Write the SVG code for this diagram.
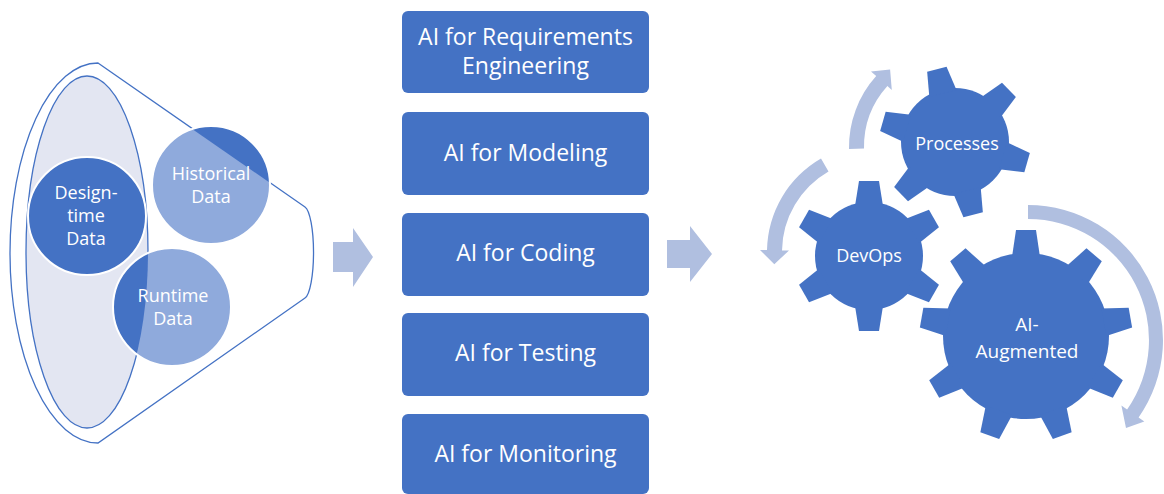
<svg xmlns="http://www.w3.org/2000/svg" xmlns:xlink="http://www.w3.org/1999/xlink" width="1164" height="494" viewBox="0 0 1164 494">
<style>
.box{fill:#4472c4}
.bt{font-family:"Open Sans","Liberation Sans",sans-serif;font-size:23px;fill:#ffffff;text-anchor:middle}
.ct{font-family:"Open Sans","Liberation Sans",sans-serif;font-size:18px;fill:#ffffff;text-anchor:middle}
.gt{font-family:"Open Sans","Liberation Sans",sans-serif;font-size:18px;fill:#ffffff;text-anchor:middle}
.arr{fill:#b0bfe0}
.gear{fill:#4472c4}
.fl{fill:none;stroke:#4472c4;stroke-width:1.3}
</style>
<defs>
<clipPath id="inEll"><ellipse cx="87" cy="252" rx="61" ry="176"/></clipPath>
<clipPath id="aboveLine"><polygon points="97,63 400,273 400,0 97,0"/></clipPath>
<polygon id="toothS" points="-14,-50 14,-50 10,-75 -10,-75"/>
<polygon id="toothL" points="-14,-79 14,-79 10,-106 -10,-106"/>
</defs>

<g id="funnel">
<path class="fl" d="M98,63 L305,207 A10,46 0 0 1 305,298 L98,443 A88,190 0 0 1 98,63 Z" fill="#ffffff"/>
<ellipse cx="87" cy="252" rx="61" ry="176" fill="#e3e6f2" stroke="#4472c4" stroke-width="1.3"/>
</g>

<g id="node-historical">
<circle cx="211" cy="185" r="59" fill="#8faadc"/>
<circle cx="211" cy="185" r="59" fill="#4472c4" clip-path="url(#aboveLine)"/>
<circle cx="211" cy="185" r="59" fill="none" stroke="#ffffff" stroke-width="2"/>
<text class="ct" x="211" y="180">Historical</text>
<text class="ct" x="211" y="203">Data</text>
</g>
<g id="node-runtime">
<circle cx="172" cy="307" r="59" fill="#8faadc"/>
<circle cx="172" cy="307" r="59" fill="#4472c4" clip-path="url(#inEll)"/>
<circle cx="172" cy="307" r="59" fill="none" stroke="#ffffff" stroke-width="2"/>
<text class="ct" x="173" y="302">Runtime</text>
<text class="ct" x="173" y="325">Data</text>
</g>
<g id="node-designtime">
<circle cx="87" cy="216" r="59" fill="#4472c4" stroke="#ffffff" stroke-width="2"/>
<text class="ct" x="86" y="199">Design-</text>
<text class="ct" x="86" y="222">time</text>
<text class="ct" x="86" y="245">Data</text>
</g>

<g id="connectors">
<polygon class="arr" points="333,242 353,242 353,228 373,257 353,287 353,272 333,272"/>
<polygon class="arr" points="667,240 690,240 690,226 712,254 690,282 690,268 667,268"/>
<path class="arr" d="M849,148.9 A106,106 0 0 1 876.2,76.1 L871,71.4 L890.1,69.5 L891.8,90.1 L887.4,86.1 A91,91 0 0 0 864,148.6 Z"/>
<path class="arr" d="M821,158.5 A108,108 0 0 0 767,250.1 L760,250 L774.3,264.2 L789,250.5 L782,250.4 A93,93 0 0 1 828.5,171.5 Z"/>
<path class="arr" d="M1028,205 A135,135 0 0 1 1138.6,417.4 L1144.3,421.5 L1126,428 L1121.4,405.4 L1127.1,409.4 A121,121 0 0 0 1028,219 Z"/>
</g>

<g id="node-req"><rect class="box" x="402" y="11" width="247" height="82" rx="6"/>
<text class="bt" x="525.5" y="45">AI for Requirements</text>
<text class="bt" x="525.5" y="74">Engineering</text></g>
<g id="node-modeling"><rect class="box" x="402" y="112" width="247" height="83" rx="6"/>
<text class="bt" x="525.5" y="161">AI for Modeling</text></g>
<g id="node-coding"><rect class="box" x="402" y="213" width="247" height="83" rx="6"/>
<text class="bt" x="525.5" y="261">AI for Coding</text></g>
<g id="node-testing"><rect class="box" x="402" y="313" width="247" height="83" rx="6"/>
<text class="bt" x="525.5" y="361">AI for Testing</text></g>
<g id="node-monitoring"><rect class="box" x="402" y="414" width="247" height="80" rx="6"/>
<text class="bt" x="525.5" y="462">AI for Monitoring</text></g>

<g id="node-processes" transform="translate(955,142)">
<circle class="gear" r="54"/>
<use xlink:href="#toothS" class="gear" transform="rotate(-14)"/>
<use xlink:href="#toothS" class="gear" transform="rotate(46)"/>
<use xlink:href="#toothS" class="gear" transform="rotate(106)"/>
<use xlink:href="#toothS" class="gear" transform="rotate(166)"/>
<use xlink:href="#toothS" class="gear" transform="rotate(226)"/>
<use xlink:href="#toothS" class="gear" transform="rotate(286)"/>
<text class="gt" x="2" y="8">Processes</text>
</g>
<g id="node-devops" transform="translate(869,256)">
<circle class="gear" r="54"/>
<use xlink:href="#toothS" class="gear" transform="rotate(0)"/>
<use xlink:href="#toothS" class="gear" transform="rotate(60)"/>
<use xlink:href="#toothS" class="gear" transform="rotate(120)"/>
<use xlink:href="#toothS" class="gear" transform="rotate(180)"/>
<use xlink:href="#toothS" class="gear" transform="rotate(240)"/>
<use xlink:href="#toothS" class="gear" transform="rotate(300)"/>
<text class="gt" x="0" y="6">DevOps</text>
</g>
<g id="node-aiaug" transform="translate(1026,336)">
<circle class="gear" r="83"/>
<use xlink:href="#toothL" class="gear" transform="rotate(0)"/>
<use xlink:href="#toothL" class="gear" transform="rotate(40)"/>
<use xlink:href="#toothL" class="gear" transform="rotate(80)"/>
<use xlink:href="#toothL" class="gear" transform="rotate(120)"/>
<use xlink:href="#toothL" class="gear" transform="rotate(160)"/>
<use xlink:href="#toothL" class="gear" transform="rotate(200)"/>
<use xlink:href="#toothL" class="gear" transform="rotate(240)"/>
<use xlink:href="#toothL" class="gear" transform="rotate(280)"/>
<use xlink:href="#toothL" class="gear" transform="rotate(320)"/>
<text class="gt" x="1" y="-5" style="font-size:19px">AI-</text>
<text class="gt" x="1" y="22" style="font-size:19px">Augmented</text>
</g>
</svg>
